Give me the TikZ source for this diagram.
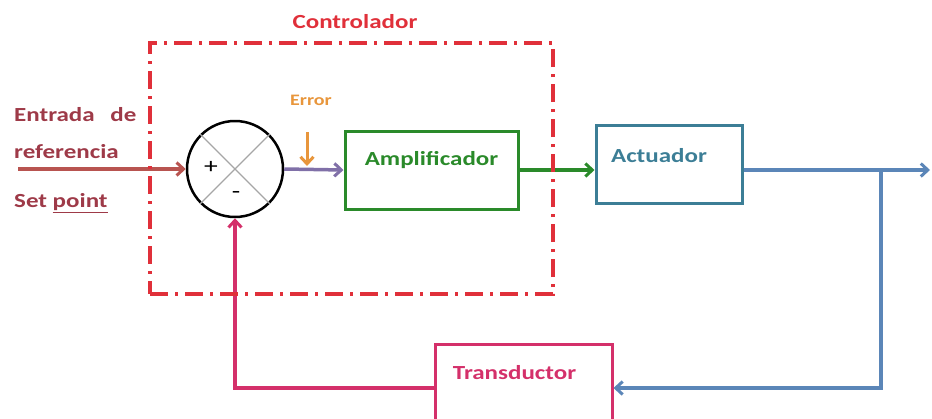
\documentclass[tikz,border=0pt]{standalone}
\usepackage{fontspec}
\setmainfont{Carlito}[FakeStretch=1.25]
\usetikzlibrary{arrows.meta}
\definecolor{ctrlred}{HTML}{E0303A}
\definecolor{refred}{HTML}{9E3A48}
\definecolor{inred}{HTML}{B85450}
\definecolor{errpurple}{HTML}{8070A8}
\definecolor{errorange}{HTML}{E8963C}
\definecolor{ampgreen}{HTML}{2A8A2A}
\definecolor{actteal}{HTML}{3C7E96}
\definecolor{outblue}{HTML}{5B86B8}
\definecolor{transpink}{HTML}{D4306A}

\begin{document}
\begin{tikzpicture}[
  x=1pt,y=-1pt,
  txt/.style={font=\bfseries\fontsize{20}{24}\selectfont,inner sep=0pt},
  block/.style={draw,line width=3pt,minimum width=#1,minimum height=78pt,inner sep=0pt},
  signal/.style={line width=3.5pt,-{Straight Barb[length=7pt,width=13pt,line width=3pt]}},
  ctrl_frame/.style={
    draw=ctrlred,line width=3.5pt,
    dash pattern=on 18pt off 7pt on 3pt off 7pt
  }]
  \useasboundingbox (0,0) rectangle (932,418);
  %
  % reference input
  \node[txt,refred,anchor=west] (ref_1) at (14,115) {Entrada\hspace{0.5em} de};
  \node[txt,refred,anchor=west] (ref_2) at (14,152) {referencia};
  \node[txt,refred,anchor=west] (ref_3) at (14,203) {Set \underline{point}};
  \coordinate (in) at (18,169);
  %
  % summing point
  \node[draw,circle,line width=2.5pt,minimum size=96pt,inner sep=0pt] (sum) at (235,169) {};
  \draw[gray!70,line width=1.2pt] (sum.north west) -- (sum.south east);
  \draw[gray!70,line width=1.2pt] (sum.north east) -- (sum.south west);
  \node[font=\fontsize{22}{24}\selectfont] (plus) at (211,167) {+};
  \node[font=\fontsize{22}{24}\selectfont] (minus) at (236,195) {-};
  %
  % blocks
  \node[block=173pt,draw=ampgreen,
    label={[txt,ampgreen,yshift=10pt]center:Amplificador}] (amp) at (431.5,170) {};
  \node[block=146pt,draw=actteal,
    label={[txt,actteal,xshift=-10pt,yshift=8pt]center:Actuador}] (act) at (669,164) {};
  \node[block=177pt,minimum height=88pt,draw=transpink,
    label={[txt,transpink,xshift=-9pt,yshift=15pt]center:Transductor}] (trans) at (523.5,388) {};
  %
  % error label
  \node[font=\bfseries\fontsize{16}{18}\selectfont,errorange] (err_lbl) at (311,100) {Error};
  \coordinate (err_top) at (307,132);
  \coordinate (err_bot) at (307,166);
  %
  % output and branch
  \coordinate (out) at (930,170);
  \coordinate (branch) at (881,170);
  %
  \draw[signal,inred] (in) -- (sum.west);
  \draw[signal,errpurple] (sum.east) -- (amp.west);
  \draw[signal,errorange,line width=3pt] (err_top) -- (err_bot);
  \draw[signal,ampgreen] (amp.east) -- (act.west |- amp.east);
  \draw[signal,outblue] (act.east |- out) -- (out);
  \draw[signal,outblue] (branch) |- (trans.east);
  \draw[signal,transpink] (trans.west) -| (sum.south);
  %
  % controller frame
  \node[ctrl_frame,minimum width=403pt,minimum height=251pt] (ctrl) at (351.5,168.5) {};
  \node[txt,ctrlred] (ctrl_lbl) at (355,22) {Controlador};
\end{tikzpicture}
\end{document}
